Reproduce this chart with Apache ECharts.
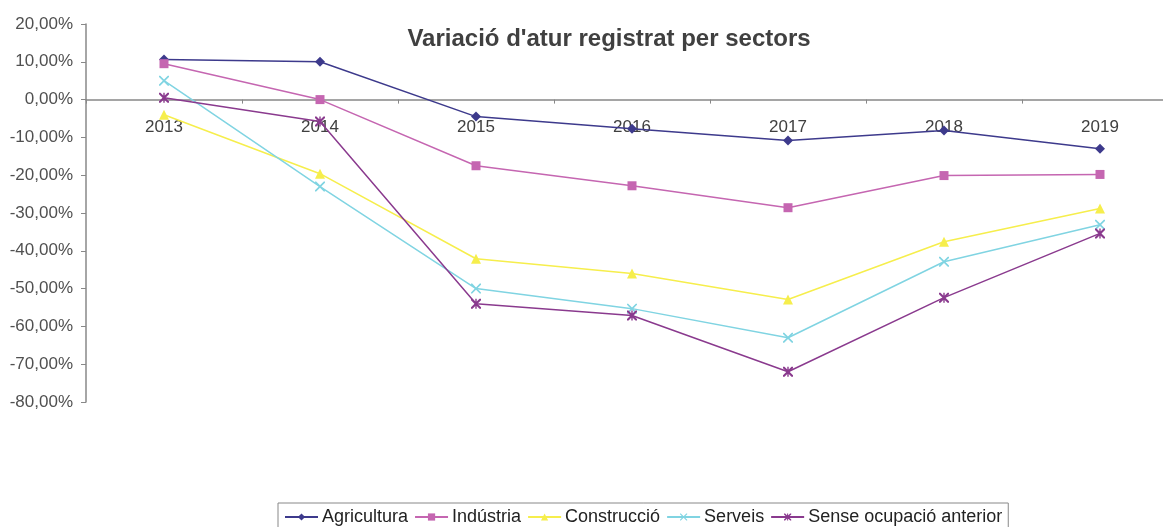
<!DOCTYPE html>
<html>
<head>
<meta charset="utf-8">
<script src="https://cdn.jsdelivr.net/npm/echarts@6/dist/echarts.min.js"></script>
<style>
html, body { margin: 0; padding: 0; background: #fff; overflow: hidden; }
#main { width: 1163px; height: 527px; }
</style>
</head>
<body>
<div id="main"></div>
<script>
var years = ['2013', '2014', '2015', '2016', '2017', '2018', '2019'];
var agricultura = [10.6, 10.0, -4.5, -7.7, -10.8, -8.2, -13.0];
var industria = [9.5, 0.0, -17.5, -22.8, -28.6, -20.1, -19.8];
var construccio = [-4.0, -19.6, -42.1, -46.0, -52.9, -37.6, -28.8];
var serveis = [5.0, -23.0, -50.0, -55.3, -63.0, -42.9, -33.1];
var senseOcupacio = [0.5, -5.8, -54.0, -57.1, -72.0, -52.4, -35.4];

var yMin = -80, yMax = 20;
var gridTop = 24, gridHeight = 378;

var crossPath = 'path://M0,0L1.2,0L5,3.8L8.8,0L10,0L10,1.2L6.2,5L10,8.8L10,10L8.8,10L5,6.2L1.2,10L0,10L0,8.8L3.8,5L0,1.2Z';
var starPath = 'path://M0,0L1.5,0L5,3.5L8.5,0L10,0L10,1.5L6.5,5L10,8.5L10,10L8.5,10L5,6.5L1.5,10L0,10L0,8.5L3.5,5L0,1.5Z M4.3,0L5.7,0L5.7,10L4.3,10Z';

var myChart = echarts.init(document.getElementById('main'));

function serie(name, data, color, symbol, size) {
    return {
        name: name,
        type: 'line',
        data: data,
        symbol: symbol,
        symbolSize: size,
        lineStyle: { color: color, width: 1.5 },
        itemStyle: { color: color },
        emphasis: { disabled: true }
    };
}

// the category axis sits on the 0% line, labels just under it
var zeroOffset = -(0 - yMin) / (yMax - yMin) * gridHeight;

option = {
    backgroundColor: '#ffffff',
    animation: false,
    title: {
        text: "Variació d'atur registrat per sectors",
        left: 604,
        textAlign: 'center',
        top: 22,
        textStyle: {
            fontFamily: 'Liberation Sans, Arial, sans-serif',
            fontSize: 24,
            fontWeight: 'bold',
            color: '#404040'
        }
    },
    legend: {
        left: 278,
        top: 503,
        itemGap: 6,
        itemWidth: 33,
        itemHeight: 9,
        padding: [5, 6, 6, 6],
        borderColor: '#888888',
        borderWidth: 1,
        borderRadius: 0,
        textStyle: {
            fontFamily: 'Liberation Sans, Arial, sans-serif',
            fontSize: 18,
            color: '#222222',
            padding: [0, 0, 0, -1]
        },
        data: ['Agricultura', 'Indústria', 'Construcció', 'Serveis', 'Sense ocupació anterior']
    },
    grid: { left: 86, top: gridTop, width: 1092, height: gridHeight, outerBoundsMode: 'none' },
    xAxis: {
        type: 'category',
        data: years,
        boundaryGap: true,
        offset: zeroOffset,
        axisLine: { onZero: false, lineStyle: { color: '#888888', width: 1.5 } },
        axisTick: { show: true, length: 4, lineStyle: { color: '#888888' } },
        axisLabel: {
            margin: 19,
            fontFamily: 'Liberation Sans, Arial, sans-serif',
            fontSize: 17,
            color: '#404040'
        },
        splitLine: { show: false }
    },
    yAxis: {
        type: 'value',
        min: yMin,
        max: yMax,
        interval: 10,
        axisLine: { show: true, lineStyle: { color: '#888888', width: 1.5 } },
        axisTick: { show: true, length: 5, lineStyle: { color: '#888888' } },
        axisLabel: {
            margin: 13,
            fontFamily: 'Liberation Sans, Arial, sans-serif',
            fontSize: 17,
            color: '#505050',
            formatter: function (v) { return v.toFixed(2).replace('.', ',') + '%'; }
        },
        splitLine: { show: false }
    },
    series: [
        serie('Agricultura', agricultura, '#3d3a8c', 'diamond', 10),
        serie('Indústria', industria, '#c566b1', 'rect', 9),
        serie('Construcció', construccio, '#f6ee4c', 'triangle', 10),
        serie('Serveis', serveis, '#80d4e2', crossPath, 10),
        serie('Sense ocupació anterior', senseOcupacio, '#8a3a8e', starPath, 10)
    ]
};
myChart.setOption(option);
</script>
</body>
</html>
